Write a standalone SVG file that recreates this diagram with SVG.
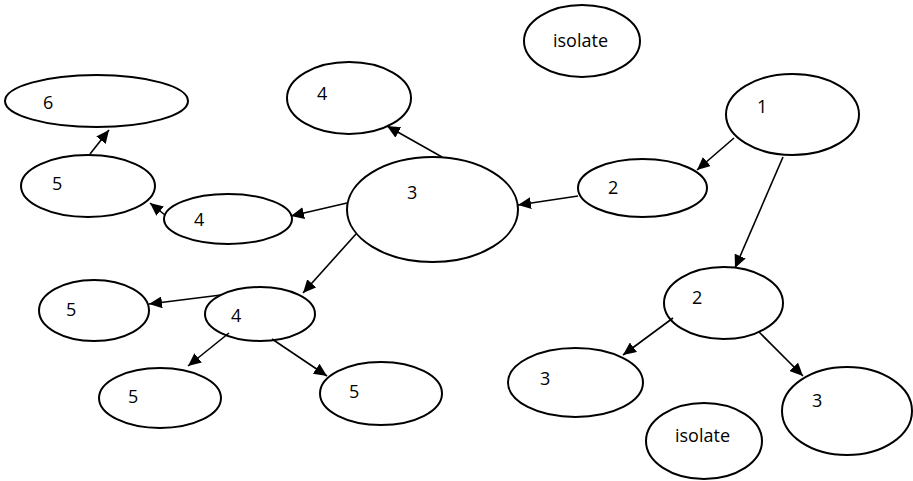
<svg xmlns="http://www.w3.org/2000/svg" width="913" height="481" viewBox="0 0 913 481">
  <style>
    .node ellipse { fill: #ffffff; stroke: #000000; stroke-width: 2; }
    .node text { font-family: "Open Sans", "Liberation Sans", sans-serif; font-size: 18px; fill: #000000; }
    .edges line { stroke: #000000; stroke-width: 1.6; marker-end: url(#arrow); }
  </style>
  <defs>
    <marker id="arrow" markerUnits="userSpaceOnUse" markerWidth="14" markerHeight="12" refX="13" refY="6" orient="auto">
      <path d="M0,0 L13,6 L0,12 z" fill="#000000"/>
    </marker>
  </defs>
  <rect width="913" height="481" fill="#ffffff"/>

  <g id="isolate-top" class="node">
    <ellipse cx="582" cy="41" rx="58" ry="36"/>
    <text x="553" y="47">isolate</text>
  </g>
  <g id="n6" class="node">
    <ellipse cx="96.5" cy="101" rx="91.5" ry="26"/>
    <text x="43" y="109">6</text>
  </g>
  <g id="n4-top" class="node">
    <ellipse cx="349" cy="98" rx="62" ry="36"/>
    <text x="317" y="100">4</text>
  </g>
  <g id="n1" class="node">
    <ellipse cx="792.5" cy="114.5" rx="66.5" ry="40.5"/>
    <text x="757" y="113">1</text>
  </g>
  <g id="n5-left" class="node">
    <ellipse cx="88" cy="186" rx="67" ry="31"/>
    <text x="52" y="190">5</text>
  </g>
  <g id="n3-center" class="node">
    <ellipse cx="432.5" cy="209.5" rx="85.5" ry="52.5"/>
    <text x="407" y="199">3</text>
  </g>
  <g id="n2-right" class="node">
    <ellipse cx="642.5" cy="188" rx="64.5" ry="29"/>
    <text x="608" y="194">2</text>
  </g>
  <g id="n4-mid" class="node">
    <ellipse cx="228" cy="219" rx="64" ry="25"/>
    <text x="194" y="226">4</text>
  </g>
  <g id="n5-lowleft" class="node">
    <ellipse cx="94" cy="310.5" rx="55" ry="30.5"/>
    <text x="66" y="316">5</text>
  </g>
  <g id="n4-low" class="node">
    <ellipse cx="260" cy="314" rx="55" ry="27"/>
    <text x="231" y="322">4</text>
  </g>
  <g id="n2-low" class="node">
    <ellipse cx="723.5" cy="303" rx="59.5" ry="36"/>
    <text x="692" y="304">2</text>
  </g>
  <g id="n3-mid" class="node">
    <ellipse cx="575.5" cy="382.5" rx="67.5" ry="34.5"/>
    <text x="540" y="385">3</text>
  </g>
  <g id="n3-right" class="node">
    <ellipse cx="847" cy="411" rx="65" ry="44"/>
    <text x="812" y="407">3</text>
  </g>
  <g id="n5-bottom" class="node">
    <ellipse cx="160" cy="398" rx="61" ry="30"/>
    <text x="128" y="403">5</text>
  </g>
  <g id="n5-bottomright" class="node">
    <ellipse cx="381" cy="393.5" rx="61" ry="31.5"/>
    <text x="349" y="398">5</text>
  </g>
  <g id="isolate-bottom" class="node">
    <ellipse cx="704" cy="441" rx="58" ry="38"/>
    <text x="675" y="442">isolate</text>
  </g>

  <g id="edges" class="edges">
    <line x1="734" y1="138" x2="697" y2="170"/>
    <line x1="783" y1="157" x2="735" y2="268"/>
    <line x1="578" y1="196" x2="518" y2="205"/>
    <line x1="442" y1="157" x2="387" y2="126"/>
    <line x1="347" y1="203" x2="291" y2="216"/>
    <line x1="356" y1="234" x2="303" y2="293"/>
    <line x1="165" y1="215" x2="150" y2="203"/>
    <line x1="90" y1="154" x2="109" y2="130"/>
    <line x1="221" y1="295" x2="149" y2="304"/>
    <line x1="229" y1="333" x2="188" y2="366"/>
    <line x1="272" y1="339" x2="327" y2="376"/>
    <line x1="673" y1="318" x2="623" y2="355"/>
    <line x1="759" y1="332" x2="803" y2="376"/>
  </g>
</svg>
